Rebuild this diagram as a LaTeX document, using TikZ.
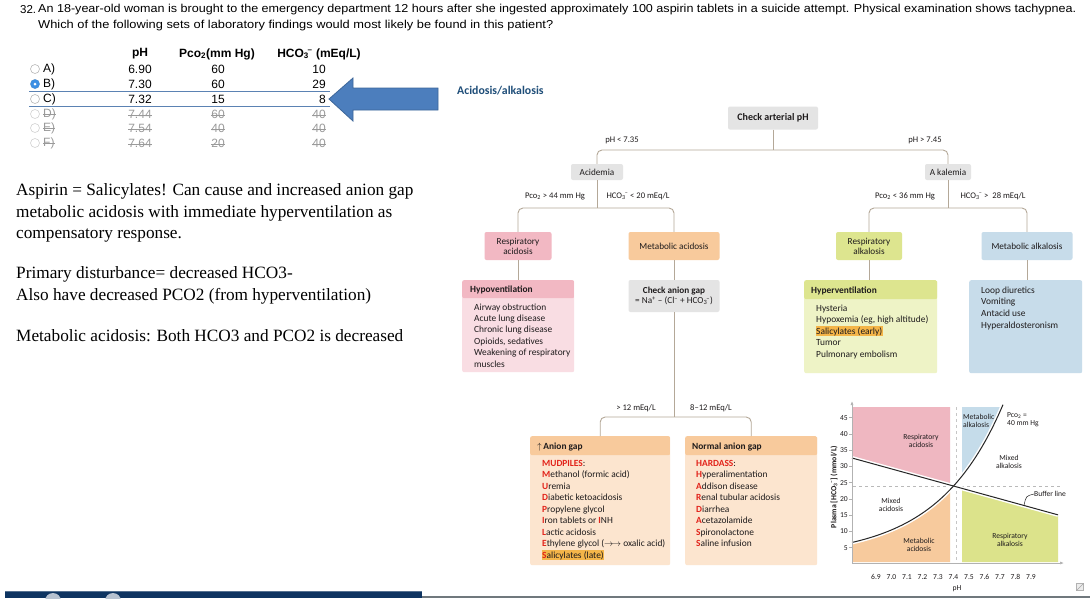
\documentclass[tikz,border=0pt]{standalone}
\usepackage{fontspec}
\usepackage{graphicx}
\setmainfont{Liberation Serif}
\newfontfamily\qfont{Liberation Sans}
\newfontfamily\ffont{Carlito}
\usetikzlibrary{arrows.meta}

\definecolor{txt}{HTML}{1E1B1C}
\definecolor{connc}{HTML}{B4A898}
\definecolor{boxgray}{HTML}{E4E4E4}
\definecolor{rapink}{HTML}{F2B8C3}
\definecolor{rapinkl}{HTML}{F9DDE3}
\definecolor{maor}{HTML}{F8CA9C}
\definecolor{maorl}{HTML}{FCE5CF}
\definecolor{rlgr}{HTML}{DDE58F}
\definecolor{rlgrl}{HTML}{EEF3C6}
\definecolor{mlbl}{HTML}{C7DCEA}
\definecolor{hilite}{HTML}{F4B549}
\definecolor{mnem}{HTML}{E2231A}
\definecolor{arrowfill}{HTML}{4C7EBD}
\definecolor{arrowedge}{HTML}{3D6699}
\definecolor{rulec}{HTML}{5B82B3}
\definecolor{labelblue}{HTML}{1F4E79}
\definecolor{radioblue}{HTML}{3C8FE3}
\definecolor{faded}{HTML}{9A9A9A}
\definecolor{navyband}{HTML}{0E3461}
\definecolor{plotpink}{HTML}{EFB7C1}
\definecolor{plotblue}{HTML}{C5DCEA}
\definecolor{plotor}{HTML}{F7CA9D}
\definecolor{plotgr}{HTML}{DCE38B}

\newcommand\pcotwo{Pco\textsubscript{2}}
\newcommand\hcothree{HCO\textsubscript{3}\kern-0.1em\textsuperscript{–}}
\newcommand\mn[1]{\textcolor{mnem}{\bfseries #1}}
\newcommand\markhl[1]{{\setlength{\fboxsep}{0.7pt}\hspace*{-0.7pt}\colorbox{hilite}{#1}\hspace*{-0.7pt}}}
% struck-through text
\newcommand\strk[1]{\sbox0{#1}\rlap{\usebox0}\rule[0.33ex]{\wd0}{0.6pt}}
% one text line per node, stacked at a fixed step
\newcommand{\putlines}[5]{%
  \foreach \itm [count=\k] in {#5} {%
    \node[listtxt] (#1-\k) at (#2,{#3+(\k-1)*#4}) {\itm};}}

\begin{document}
\begin{tikzpicture}[x=1pt,y=-1pt,
  qtext/.style={anchor=west, inner sep=0pt, font=\qfont\fontsize{11.5}{13}\selectfont},
  tcell/.style={inner sep=0pt, font=\qfont\fontsize{12}{14}\selectfont},
  thead/.style={inner sep=0pt, font=\qfont\bfseries\fontsize{12}{14}\selectfont},
  radio/.style={circle, draw=gray!55, fill=white, minimum size=9pt, inner sep=0pt, line width=0.6pt},
  note/.style={anchor=base west, inner sep=0pt, font=\fontsize{17.25}{20}\selectfont},
  flow/.style={inner sep=1pt, text=txt, font=\ffont\fontsize{8.6}{9.6}\selectfont, align=center},
  gbox/.style={flow, fill=boxgray, rounded corners=2pt},
  cbox/.style={flow, font=\ffont\fontsize{9.2}{10}\selectfont, rounded corners=2pt, minimum height=28pt},
  listbox/.style={rounded corners=2pt, anchor=north west, inner sep=0pt},
  hdr/.style 2 args={path picture={\fill[#1] (path picture bounding box.north west) rectangle ([yshift=-#2]path picture bounding box.north east);}},
  listtxt/.style={anchor=base west, inner sep=0pt, text=txt, font=\ffont\fontsize{9.4}{10}\selectfont},
  listhead/.style={listtxt, font=\ffont\bfseries\fontsize{9.4}{10}\selectfont},
  conn/.style={draw=connc, line width=0.9pt},
  plab/.style={inner sep=0pt, text=txt, font=\ffont\fontsize{7.6}{8.4}\selectfont, align=center},
  declare function={cvy(\t)=564-3.25*(2+22*pow(10,(\t-953.5)/150)); bfy(\t)=458+0.276*(\t-852);}
]
\useasboundingbox (0,0) rectangle (1090,598);
\fill[white] (0,0) rectangle (1090,598);

% ---------------- question ----------------
\node[qtext] (qnum) at (20,10) {32.};
\node[qtext] (qline1) at (38,10) {\resizebox{1038pt}{\height}{An 18-year-old woman is brought to the emergency department 12 hours after she ingested approximately 100 aspirin tablets in a suicide attempt. Physical examination shows tachypnea.}};
\node[qtext] (qline2) at (38,26) {\resizebox{515pt}{\height}{Which of the following sets of laboratory findings would most likely be found in this patient?}};

% ---------------- answer table ----------------
\node[thead] (hph) at (140,54) {pH};
\node[thead] (hpco) at (217,54) {\pcotwo(mm Hg)};
\node[thead] (hhco) at (319,54) {\hcothree\ (mEq/L)};

\foreach \r/\ph/\pc/\hc/\yy in {A/6.90/60/10/69, B/7.30/60/29/84, C/7.32/15/8/99} {
  \node[radio] (rad\r) at (35,\yy) {};
  \node[tcell, anchor=west] (let\r) at (43,\yy) {\r)};
  \node[tcell] (ph\r) at (140,\yy) {\ph};
  \node[tcell] (pc\r) at (218,\yy) {\pc};
  \node[tcell, anchor=east] (hc\r) at (326,\yy) {\hc};
}
\foreach \r/\ph/\pc/\hc/\yy in {D/7.44/60/40/114, E/7.54/40/40/128, F/7.64/20/40/143} {
  \node[radio, draw=gray!35] (rad\r) at (35,\yy) {};
  \node[tcell, anchor=west, text=faded] (let\r) at (43,\yy) {\strk{\r)}};
  \node[tcell, text=faded] (ph\r) at (140,\yy) {\strk{\ph}};
  \node[tcell, text=faded] (pc\r) at (218,\yy) {\strk{\pc}};
  \node[tcell, anchor=east, text=faded] (hc\r) at (326,\yy) {\strk{\hc}};
}
% selected answer
\node[circle, fill=radioblue, minimum size=9.5pt, inner sep=0pt] (radBsel) at (radB) {};
\node[circle, fill=white, minimum size=3pt, inner sep=0pt] (radBdot) at (radB) {};

% rules under rows B and C
\draw[rulec, line width=0.9pt] (29,91.5) -- (330,91.5);
\draw[rulec, line width=0.9pt] (29,106.5) -- (330,106.5);

% block arrow pointing at row C
\draw[fill=arrowfill, draw=arrowedge, line width=0.8pt, line join=miter]
  (329,99) -- (353,78) -- (353,88) -- (438,88) -- (438,110) -- (353,110) -- (353,121) -- cycle;
\node[anchor=west, inner sep=0pt, text=labelblue, font=\ffont\bfseries\fontsize{11.8}{13}\selectfont] (acal) at (457,91) {Acidosis/alkalosis};

% ---------------- notes ----------------
\node[note] (n1) at (16,195) {Aspirin = Salicylates! Can cause and increased anion gap};
\node[note] (n2) at (16,217) {metabolic acidosis with immediate hyperventilation as};
\node[note] (n3) at (16,238) {compensatory response.};
\node[note] (n4) at (16,278) {Primary disturbance= decreased HCO3-};
\node[note] (n5) at (16,300) {Also have decreased PCO2 (from hyperventilation)};
\node[note] (n6) at (16,341) {Metabolic acidosis: Both HCO3 and PCO2 is decreased};

% ---------------- flowchart ----------------
\node[gbox, font=\ffont\bfseries\fontsize{10}{11}\selectfont, minimum width=90pt, minimum height=23pt] (chk) at (773,118) {Check arterial pH};
\node[flow] (lph1) at (622,140) {pH < 7.35};
\node[flow] (lph2) at (925,140) {pH > 7.45};
\node[gbox, font=\ffont\fontsize{9.2}{10}\selectfont, minimum width=52pt, minimum height=16pt] (acd) at (597,172) {Acidemia};
\node[gbox, font=\ffont\fontsize{9.2}{10}\selectfont, minimum width=46pt, minimum height=16pt] (akl) at (948,172) {A kalemia};

\node[flow] (lpa) at (555,196) {\pcotwo\ > 44 mm Hg};
\node[flow] (lha) at (638,196) {\hcothree\ < 20 mEq/L};
\node[flow] (lpb) at (905,196) {\pcotwo\ < 36 mm Hg};
\node[flow] (lhb) at (993,196) {\hcothree\ > ~28 mEq/L};

\node[cbox, fill=rapink, minimum width=67pt] (racid) at (518,246) {Respiratory\\acidosis};
\node[cbox, fill=maor, minimum width=91pt] (macid) at (674,246) {Metabolic acidosis};
\node[cbox, fill=rlgr, minimum width=66pt] (ralk) at (869,246) {Respiratory\\alkalosis};
\node[cbox, fill=mlbl, minimum width=91pt] (malk) at (1027,246) {Metabolic alkalosis};

\node[listbox, fill=rapinkl, hdr={rapink}{18pt}, minimum width=112pt, minimum height=92pt] (hypo) at (462,280) {};
\node[gbox, font=\ffont\fontsize{9.2}{10.5}\selectfont, minimum width=91pt, minimum height=32pt] (cag) at (674,296) {\textbf{Check anion gap}\\= Na\textsuperscript{+} – (Cl\textsuperscript{–} + \hcothree)};
\node[listbox, fill=rlgrl, hdr={rlgr}{19pt}, minimum width=133pt, minimum height=93pt] (hyper) at (804,280) {};
\node[listbox, fill=mlbl, minimum width=113pt, minimum height=93pt] (malist) at (969,280) {};

\node[flow] (lgt) at (636,408) {> 12 mEq/L};
\node[flow] (lnr) at (711,408) {8–12 mEq/L};
\node[listbox, fill=maorl, hdr={maor}{19pt}, minimum width=140pt, minimum height=129pt] (ag) at (530,436) {};
\node[listbox, fill=maorl, hdr={maor}{19pt}, minimum width=132pt, minimum height=129pt] (nag) at (685,436) {};

% connectors
\coordinate (s1) at (773,150);
\draw[conn] (chk.south) -- (s1);
\draw[conn, rounded corners=5pt] (acd.north) |- (s1) -| (akl.north);
\coordinate (s2) at (597,208);
\draw[conn] (acd.south) -- (s2);
\draw[conn, rounded corners=5pt] (racid.north) |- (s2) -| (macid.north);
\coordinate (s3) at (948,208);
\draw[conn] (akl.south) -- (s3);
\draw[conn, rounded corners=5pt] (ralk.north) |- (s3) -| (malk.north);
\draw[conn] (racid.south) -- (racid.south |- hypo.north);
\draw[conn] (macid.south) -- (cag.north);
\draw[conn] (ralk.south) -- (ralk.south |- hyper.north);
\draw[conn] (malk.south) -- (malk.south |- malist.north);
\coordinate (s4) at (674,417);
\draw[conn] (cag.south) -- (s4);
\draw[conn, rounded corners=5pt] (ag.north) |- (s4) -| (nag.north);

% list contents
\node[listhead] (hypo-h) at (470,292) {Hypoventilation};
\putlines{hypo}{474}{310}{11.4}{Airway obstruction, Acute lung disease, Chronic lung disease, {Opioids, sedatives}, Weakening of respiratory, muscles}
\node[listhead] (hyper-h) at (811,293) {Hyperventilation};
\putlines{hyper}{816}{311}{11.5}{Hysteria, {Hypoxemia (eg, high altitude)}, {\markhl{Salicylates (early)}}, Tumor, Pulmonary embolism}
\putlines{malist}{981}{293}{11.7}{Loop diuretics, Vomiting, Antacid use, Hyperaldosteronism}
\node[listhead] (ag-h) at (537,449) {$\uparrow$\,Anion gap};
\putlines{ag}{542}{466}{11.5}{{\mn{MUDPILES}:}, {\mn{M}ethanol (formic acid)}, {\mn{U}remia}, {\mn{D}iabetic ketoacidosis}, {\mn{P}ropylene glycol}, {\mn{I}ron tablets or \mn{I}NH}, {\mn{L}actic acidosis}, {\mn{E}thylene glycol ($\rightarrow\!\rightarrow$ oxalic acid)}, {\markhl{\mn{S}alicylates (late)}}}
\node[listhead] (nag-h) at (692,449) {Normal anion gap};
\putlines{nag}{696}{466}{11.5}{{\mn{HARDASS}:}, {\mn{H}yperalimentation}, {\mn{A}ddison disease}, {\mn{R}enal tubular acidosis}, {\mn{D}iarrhea}, {\mn{A}cetazolamide}, {\mn{S}pironolactone}, {\mn{S}aline infusion}}

% ---------------- pH / bicarbonate diagram ----------------
\fill[plotpink] (853,407) -- (950,407) -- (950,{bfy(950)}) -- (853,{bfy(853)}) -- cycle;
\fill[plotblue] (962,407) -- (1002,407) -- plot[domain=1002:962, samples=30] (\x,{cvy(\x)}) -- cycle;
\fill[plotor] plot[domain=853:950, samples=40] (\x,{cvy(\x)}) -- (950,562) -- (853,562) -- cycle;
\fill[plotgr] (962,{bfy(962)}) -- (1058,{bfy(1058)}) -- (1058,562) -- (962,562) -- cycle;

\draw[gray!55, dashed, line width=0.6pt] (853,486) -- (1060,486);
\draw[gray!45, dashed, line width=0.6pt] (956,407) -- (956,562);

\draw[white, line width=4pt] (852,{bfy(852)}) -- (1058,{bfy(1058)});
\draw[white, line width=4pt] plot[domain=852:1003, samples=60] (\x,{cvy(\x)});
\draw[black!85, line width=1pt] (852,{bfy(852)}) -- (1058,{bfy(1058)});
\draw[black!85, line width=1pt] plot[domain=852:1003, samples=60] (\x,{cvy(\x)});

% axes
\draw[gray!60, line width=0.7pt, -{Latex[length=4pt,width=3pt]}] (852,563) -- (852,401);
\draw[gray!60, line width=0.7pt, -{Latex[length=4pt,width=3pt]}] (852,563) -- (1064,563);
\foreach \v [count=\i] in {5,10,...,45} {
  \draw[gray!60, line width=0.6pt] (849,{564-3.25*\v}) -- (852,{564-3.25*\v});
  \node[plab, anchor=east] (yt\i) at (848,{564-3.25*\v}) {\v};
}
\foreach \p [count=\i] in {6.9,7.0,7.1,7.2,7.3,7.4,7.5,7.6,7.7,7.8,7.9}
  \node[plab] (xt\i) at ({953.5+(\p-7.4)*155},577) {\p};
\node[plab] (xlab) at (957,589) {pH};
\node[plab, font=\ffont\bfseries\fontsize{7.8}{8.4}\selectfont, rotate=90] (ylab) at (834,487) {Plasma [\hcothree] (mmol/L)};

\node[plab] (t-ra) at (921,441) {Respiratory\\acidosis};
\node[plab, align=left, anchor=west] (t-ma) at (963,421) {Metabolic\\alkalosis};
\node[plab, align=left, anchor=west] (t-pco) at (1007,420) {\pcotwo\ =\\40 mm Hg};
\node[plab] (t-mal) at (1009,462) {Mixed\\alkalosis};
\node[plab, anchor=west] (t-buf) at (1034,494) {Buffer line};
\draw[black!85, line width=0.5pt] (1024,{bfy(1024)}) .. controls (1026,496) .. (t-buf.west);
\node[plab] (t-mac) at (891,505) {Mixed\\acidosis};
\node[plab] (t-mta) at (919,545) {Metabolic\\acidosis};
\node[plab] (t-rl) at (1010,540) {Respiratory\\alkalosis};

% expand icon
\node[draw=gray!60, fill=gray!15, minimum size=7pt, inner sep=0pt] (expand) at (1080,587) {};
\draw[gray!70, line width=0.5pt] (expand.south west) -- (expand.north east);

% ---------------- bottom band ----------------
\fill[navyband] (5,591) rectangle (422,598);
\begin{scope}
  \clip (5,591) rectangle (422,598);
  \fill[navyband!30!white] (53,601) circle (8);
  \fill[navyband!30!white] (113,601) circle (8);
\end{scope}
\fill[navyband!70!white] (5,591) rectangle (422,592);
\fill[black!70!cyan!40!gray] (422,595.5) rectangle (1090,598);
\end{tikzpicture}
\end{document}
